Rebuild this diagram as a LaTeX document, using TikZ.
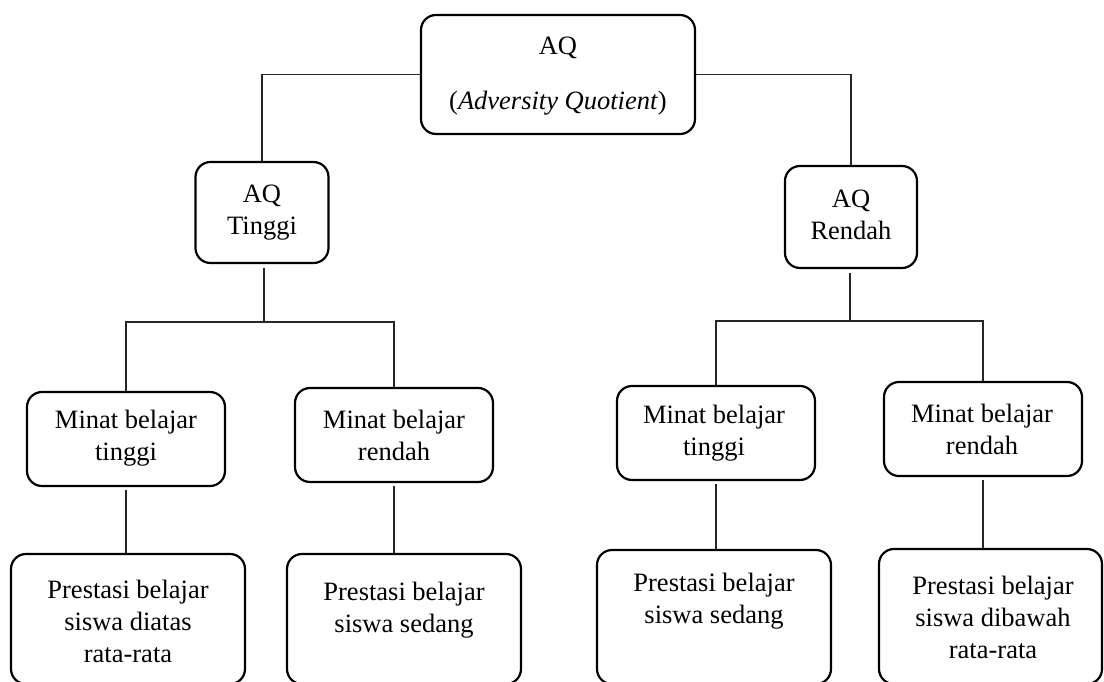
\documentclass[tikz,border=0pt]{standalone}
\usepackage{fontspec}
\setmainfont{Liberation Serif}
\begin{document}
\begin{tikzpicture}[x=1pt,y=-1pt,
  box/.style={draw,line width=2.2pt,rounded corners=15pt,inner sep=0pt},
  txt/.style={align=center,inner sep=0pt,font=\fontsize{26.5}{32}\selectfont},
  link/.style={line width=1.3pt,draw=black!85}]
\useasboundingbox (0,0) rectangle (1104,682);
\clip (0,0) rectangle (1104,682);
% top
\node[box,minimum width=274pt,minimum height=119pt] (top) at (558,74.5) {};
\node[txt] (topt) at (558,76.5) {AQ\\[23pt](\textit{Adversity Quotient})};
% level 2
\node[box,minimum width=133pt,minimum height=101pt] (aqt) at (262,212.5) {};
\node[txt] (aqtt) at (262,212.5) {AQ\\Tinggi};
\node[box,minimum width=132pt,minimum height=102pt] (aqr) at (851,217) {};
\node[txt] (aqrt) at (851,215) {AQ\\Rendah};
% level 3
\node[box,minimum width=198pt,minimum height=94pt] (mtl) at (126,439) {};
\node[txt] (mtlt) at (126,438) {Minat belajar\\tinggi};
\node[box,minimum width=198pt,minimum height=94pt] (mrl) at (394,435) {};
\node[txt] (mrlt) at (394,435) {Minat belajar\\rendah};
\node[box,minimum width=198pt,minimum height=94pt] (mtr) at (716,433) {};
\node[txt] (mtrt) at (714,433) {Minat belajar\\tinggi};
\node[box,minimum width=198pt,minimum height=94pt] (mrr) at (983,429) {};
\node[txt] (mrrt) at (982,429) {Minat belajar\\rendah};
% level 4
\node[box,minimum width=234pt,minimum height=130pt] (p1) at (128,619) {};
\node[txt] (p1t) at (128,621) {Prestasi belajar\\siswa diatas\\rata-rata};
\node[box,minimum width=234pt,minimum height=130pt] (p2) at (404,619) {};
\node[txt] (p2t) at (404,610) {Prestasi belajar\\siswa sedang};
\node[box,minimum width=234pt,minimum height=134pt] (p3) at (714,617) {};
\node[txt] (p3t) at (714,601) {Prestasi belajar\\siswa sedang};
\node[box,minimum width=223pt,minimum height=135pt] (p4) at (990.5,616.5) {};
\node[txt] (p4t) at (993,617) {Prestasi belajar\\siswa dibawah\\rata-rata};
% connectors
\draw[link] (aqt.north) |- (top.west);
\draw[link] (aqr.north) |- (top.east);
\coordinate (bl) at (264,322);
\coordinate (br) at (850,321);
\draw[link,shorten <=4pt] (aqt.south -| bl) -- (bl);
\draw[link,shorten <=4pt] (aqr.south -| br) -- (br);
\draw[link] (mtl.north) |- (bl) -| (mrl.north);
\draw[link] (mtr.north) |- (br) -| (mrr.north);
\draw[link,shorten <=3pt] (mtl.south) -- (mtl.south |- p1.north);
\draw[link,shorten <=3pt] (mrl.south) -- (mrl.south |- p2.north);
\draw[link,shorten <=3pt] (mtr.south) -- (mtr.south |- p3.north);
\draw[link,shorten <=3pt] (mrr.south) -- (mrr.south |- p4.north);
\end{tikzpicture}
\end{document}
